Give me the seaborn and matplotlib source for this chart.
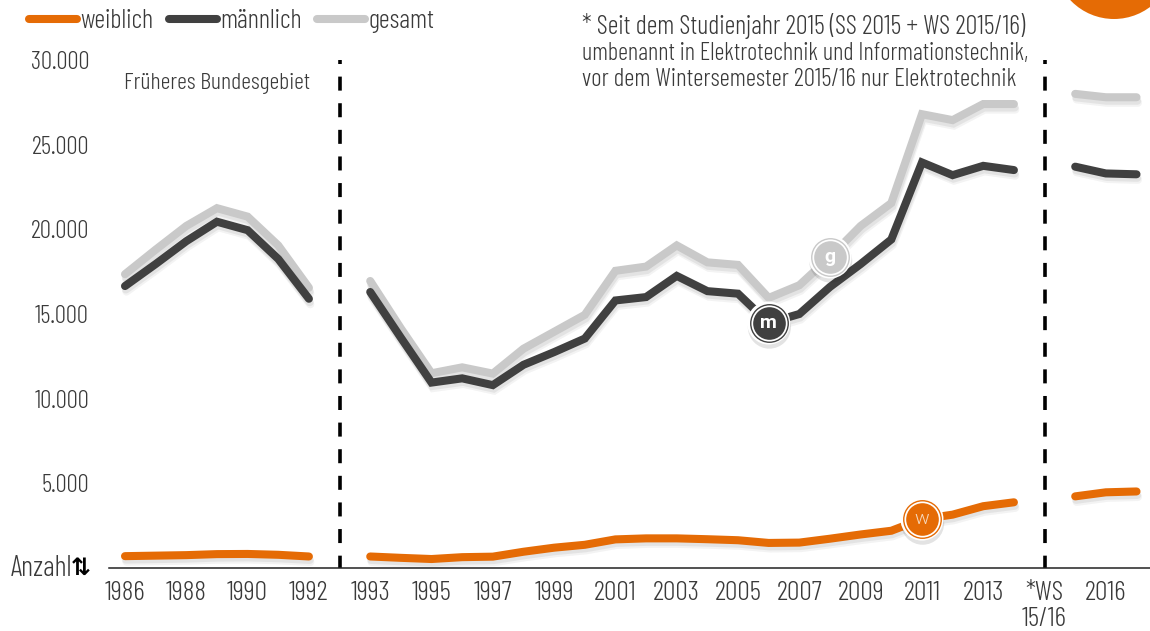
import matplotlib
matplotlib.use("Agg")
import logging
import matplotlib.pyplot as plt
import matplotlib.patheffects as pe
from matplotlib.lines import Line2D
from matplotlib.patches import Circle
from matplotlib.transforms import IdentityTransform
import pandas as pd
import seaborn as sns

logging.getLogger("matplotlib.font_manager").setLevel(logging.ERROR)

# ---- data ----
years_a = [1986, 1987, 1988, 1989, 1990, 1991, 1992]
years_b = list(range(1993, 2015))
years_c = [2015, 2016, 2017]

gesamt_a = [17350, 18800, 20200, 21250, 20750, 19050, 16550]
gesamt_b = [16950, 14150, 11500, 11850, 11480, 12950, 13950, 14950, 17550, 17800, 19050,
            18050, 17900, 15950, 16700, 18370, 20200, 21550, 26800, 26450, 27400, 27400]
gesamt_c = [28000, 27800, 27800]

maennlich_a = [16650, 17950, 19300, 20450, 19950, 18250, 15900]
maennlich_b = [16300, 13600, 10950, 11200, 10800, 12000, 12750, 13550, 15800, 16000, 17250,
               16350, 16200, 14470, 15000, 16600, 17950, 19400, 23950, 23200, 23750, 23500]
maennlich_c = [23700, 23300, 23250]

weiblich_a = [700, 730, 760, 820, 830, 780, 680]
weiblich_b = [680, 600, 530, 640, 670, 960, 1200, 1370, 1690, 1750, 1750,
              1700, 1640, 1480, 1500, 1730, 1980, 2200, 2890, 3150, 3650, 3880]
weiblich_c = [4230, 4470, 4520]

x_tick_labels = ["1986", "1988", "1990", "1992", "1993", "1995", "1997", "1999", "2001", "2003",
                 "2005", "2007", "2009", "2011", "2013", "*WS\n15/16", "2016"]
y_tick_values = [5000, 10000, 15000, 20000, 25000, 30000]
y_tick_labels = ["5.000", "10.000", "15.000", "20.000", "25.000", "30.000"]
series_names = ["gesamt", "männlich", "weiblich"]

ORANGE, DARK, GREY = "#E56B05", "#404040", "#C9C9C9"
TXT = "#3a3a3a"
FONT = ["Barlow Condensed", "IBM Plex Sans Condensed", "Roboto", "DejaVu Sans"]
FS = 18.5

sns.set_theme(style="white")
plt.rcParams["font.family"] = FONT
plt.rcParams["font.weight"] = 300
plt.rcParams["font.size"] = FS

# slots: the two gaps between the blocks hold the dashed separators
pos_a = list(range(len(years_a)))
pos_b = [len(years_a) + 1 + i for i in range(len(years_b))]
pos_c = [pos_b[-1] + 2 + i for i in range(len(years_c))]
sep1, sep2 = len(years_a), pos_b[-1] + 1

rows = []
for name, parts in zip(series_names, [(gesamt_a, gesamt_b, gesamt_c),
                                      (maennlich_a, maennlich_b, maennlich_c),
                                      (weiblich_a, weiblich_b, weiblich_c)]):
    for seg, (pos, yrs, vals) in enumerate(zip((pos_a, pos_b, pos_c), (years_a, years_b, years_c), parts)):
        for p, yr, v in zip(pos, yrs, vals):
            rows.append(dict(reihe=name, seg=seg, pos=p, jahr=yr, wert=v))
df = pd.DataFrame(rows)

fig = plt.figure(figsize=(11.5, 6.31), dpi=100, facecolor="white")
ax = fig.add_axes([109 / 1150, (631 - 568) / 631, (1150 - 109) / 1150, 508 / 631])
ax.set_facecolor("none")

shadow = [pe.SimpleLineShadow(offset=(1, -4), shadow_color="k", alpha=0.05),
          pe.SimpleLineShadow(offset=(0.6, -2.5), shadow_color="k", alpha=0.07),
          pe.Normal()]
palette = {"gesamt": GREY, "männlich": DARK, "weiblich": ORANGE}
sns.lineplot(data=df, x="pos", y="wert", hue="reihe", hue_order=series_names, units="seg",
             estimator=None, palette=palette, linewidth=5.8, legend=False, ax=ax,
             solid_capstyle="round", solid_joinstyle="miter", path_effects=shadow, zorder=3)

ax.set_xlim(-0.522, 33.44)
ax.set_ylim(0, 30000)
ax.set_xlabel("")
ax.set_ylabel("")

# dashed separators
for s in (sep1, sep2):
    ax.axvline(s, ymin=1, ymax=0, color="black", lw=2.6, zorder=2,
               linestyle=(2.77, (3.88, 3.49)))

for side in ("top", "right", "left"):
    ax.spines[side].set_visible(False)
ax.spines["bottom"].set_color("#222222")
ax.spines["bottom"].set_linewidth(1.1)

ax.set_xticks(list(range(0, sep1, 2)) + list(range(sep1 + 1, sep2, 2)) + [sep2, sep2 + 2])
ax.set_xticklabels(x_tick_labels, color=TXT, fontsize=20, linespacing=1.08)
ax.set_yticks(y_tick_values)
ax.set_yticklabels(y_tick_labels, color=TXT, fontsize=18)
ax.tick_params(axis="x", length=0, pad=9.5)
ax.tick_params(axis="y", length=0, pad=14.4)
ax.grid(False)


def ftext(x, y, s, **kw):
    kw.setdefault("color", TXT)
    kw.setdefault("va", "center")
    kw.setdefault("fontsize", FS)
    return fig.text(x / 1150, 1 - y / 631, s, **kw)


ftext(72, 568, "Anzahl", ha="right", fontsize=20.5)
ftext(91, 568, "⇅", ha="right", color="black", family="DejaVu Sans", fontweight="bold", fontsize=17)
ftext(124, 83, "Früheres Bundesgebiet", fontsize=17.3)
ftext(582, 26, "* Seit dem Studienjahr 2015 (SS 2015 + WS 2015/16)", fontsize=19)
ftext(582, 53, "umbenannt in Elektrotechnik und Informationstechnik,", fontsize=17.6)
ftext(582, 79, "vor dem Wintersemester 2015/16 nur Elektrotechnik", fontsize=18.2)

# legend
handles = [Line2D([], [], color=c, lw=5.8, solid_capstyle="round") for c in (ORANGE, DARK, GREY)]
leg = fig.legend(handles, ["weiblich", "männlich", "gesamt"], ncol=3, frameon=False,
                 loc="center left", bbox_to_anchor=(29 / 1150, 1 - 21 / 631), borderpad=0, borderaxespad=0,
                 handlelength=1.8, handletextpad=0.14, columnspacing=0.56, fontsize=19.2)
for t in leg.get_texts():
    t.set_color(TXT)

# series badges sit on data points of their series
badges = [("gesamt", 2008, "g", GREY, "bold"),
          ("männlich", 2006, "m", DARK, "bold"),
          ("weiblich", 2011, "w", ORANGE, "normal")]
for name, yr, letter, col, weight in badges:
    row = df[(df.reihe == name) & (df.jahr == yr)].iloc[0]
    x, y = row.pos, row.wert
    ax.scatter([x], [y], s=31 ** 2, color="white", zorder=5, linewidths=0,
               path_effects=[pe.SimplePatchShadow(offset=(0.5, -3), alpha=0.12, shadow_rgbFace="k"), pe.Normal()])
    ax.scatter([x], [y], s=28 ** 2, color=col, zorder=6, linewidths=0)
    ax.scatter([x], [y], s=26 ** 2, color="white", zorder=7, linewidths=0)
    ax.scatter([x], [y], s=23.5 ** 2, color=col, zorder=8, linewidths=0)
    ax.annotate(letter, (x, y), ha="center", va="center", zorder=9, color="white" if letter != "w" else "#F6D9BE",
                family=["Roboto", "DejaVu Sans"], fontweight=weight if letter != "w" else 300, fontsize=14)

# orange disc cut by the top edge
fig.add_artist(Circle((1114, 631 + 41), 60, transform=IdentityTransform(), color=ORANGE, lw=0))

fig.savefig("out.png", dpi=100, facecolor="white")
